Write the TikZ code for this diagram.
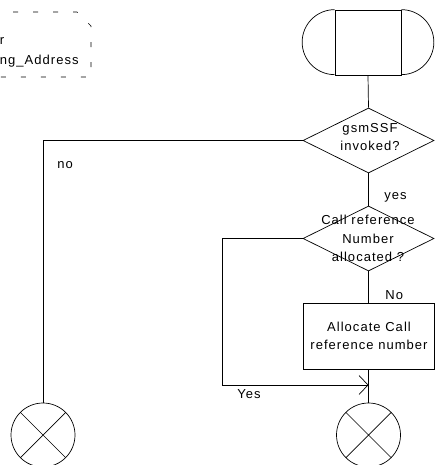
\documentclass[tikz,border=0pt]{standalone}
\usepackage{fontspec}
\setmainfont{Liberation Sans}[LetterSpace=8]
\usetikzlibrary{shapes.geometric,arrows.meta}
\begin{document}
\begin{tikzpicture}[x=1pt,y=-1pt,line width=0.7pt,
  lbl/.style={font=\fontsize{13}{18.5}\selectfont,inner sep=0pt,align=center},
  dia/.style={draw,diamond,minimum width=131pt,minimum height=65pt,inner sep=0pt},
  conn/.style={draw,circle,minimum size=64pt,inner sep=0pt},
  taskbox/.style={draw,rectangle,minimum width=131pt,minimum height=66pt,inner sep=0pt},
  comment/.style={dash pattern=on 5pt off 15pt, line width=0.6pt},
  barb/.style={-{Straight Barb[length=9pt,width=19pt,line width=0.7pt]}}]
\useasboundingbox (0,0) rectangle (435,465);
% start terminal
\node[draw,rectangle,minimum width=66pt,minimum height=65pt,inner sep=0pt] (start) at (368,42.5) {};
\draw (start.north west) arc[start angle=90,end angle=270,radius=32.5pt];
\draw (start.north east) arc[start angle=90,end angle=-90,radius=32.5pt];
% decisions
\node[dia] (d1) at (368.5,140.5) {};
\node[lbl] (t1) at (370,137) {gsmSSF\\invoked?};
\node[dia] (d2) at (368.5,238.5) {};
\node[lbl] (t2) at (368,238.5) {Call reference\\Number\\allocated ?};
% task
\node[taskbox] (box) at (368.5,336.5) {};
\node[lbl] (t3) at (369,336) {Allocate Call\\reference number};
% connectors
\node[conn] (c1) at (43,435) {};
\draw (c1.45) -- (c1.225) (c1.135) -- (c1.315);
\node[conn] (c2) at (368.5,435) {};
\draw (c2.45) -- (c2.225) (c2.135) -- (c2.315);
% lines
\coordinate (m) at (368.5,385);
\coordinate (yc) at (222,385);
\draw (start.south) -- (d1.north);
\draw (d1.west) -| (c1.north);
\draw (d1.south) -- (d2.north);
\draw (d2.south) -- (box.north);
\draw (box.south) -- (m);
\draw[line width=1.6pt] (m) -- (c2.north);
\draw[barb] (d2.west) -| (yc) -- (m);
% labels
\node[lbl,anchor=west] (lno) at (57,165) {no};
\node[lbl,anchor=west] (lyes) at (384,197) {yes};
\node[lbl,anchor=west] (lNo) at (385,295) {No};
\node[lbl,anchor=west] (lYes) at (237,394) {Yes};
% comment
\draw[comment] (-7,12) -- (77,12) -- (91,26) -- (91,77) -- (-7,77);
\node[lbl,anchor=west] (cr) at (-0.5,41) {r};
\node[lbl,anchor=west] (ca) at (-0.5,61) {ng\_Address};
\end{tikzpicture}
\end{document}
